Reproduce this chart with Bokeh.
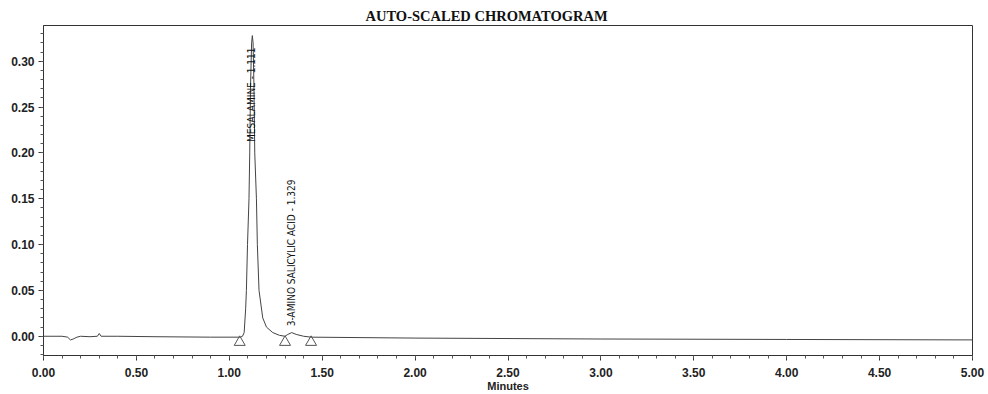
import math
from bokeh.plotting import figure
from bokeh.models import Range1d, FixedTicker, PrintfTickFormatter, ColumnDataSource
from bokeh.core.properties import value
from bokeh.embed import file_html
from bokeh.resources import INLINE

# ---- data ----
time_min = [0.00, 0.10, 0.13, 0.145, 0.16, 0.18, 0.20, 0.25, 0.29, 0.30, 0.31, 0.40,
            0.60, 0.90, 1.06, 1.071, 1.08, 1.088, 1.092, 1.098, 1.106, 1.110, 1.114,
            1.120, 1.124, 1.128, 1.133, 1.137, 1.146, 1.151, 1.160, 1.180, 1.200,
            1.234, 1.270, 1.300, 1.315, 1.336, 1.360, 1.400, 1.440, 2.00, 3.00,
            4.00, 5.00]
absorbance = [0.000, 0.000, -0.001, -0.004, -0.003, -0.001, 0.000, -0.0005, 0.000, 0.003,
              0.000, 0.000, -0.0005, -0.001, -0.001, 0.000, 0.004, 0.030, 0.050, 0.100,
              0.150, 0.200, 0.270, 0.320, 0.328, 0.320, 0.270, 0.200, 0.150, 0.100,
              0.050, 0.020, 0.010, 0.004, 0.001, 0.000, 0.002, 0.004, 0.002, 0.000,
              -0.001, -0.002, -0.003, -0.0035, -0.004]

peak_names = ["MESALAMINE - 1.111", "3-AMINO SALICYLIC ACID - 1.329"]
peak_label_time = [1.118, 1.336]
peak_label_level = [0.212, 0.011]
baseline_marker_times = [1.056, 1.300, 1.440]

x_ticks = [0.0, 0.5, 1.0, 1.5, 2.0, 2.5, 3.0, 3.5, 4.0, 4.5, 5.0]
x_minor = [i / 10 for i in range(0, 51)]
y_ticks = [0.00, 0.05, 0.10, 0.15, 0.20, 0.25, 0.30]
y_minor = [i / 100 for i in range(-2, 34)]

p = figure(width=988, height=394, output_backend="svg", toolbar_location=None,
           x_range=Range1d(0, 5), y_range=Range1d(-0.021, 0.339),
           min_border_left=43, min_border_right=16, min_border_top=25,
           min_border_bottom=37, background_fill_color="white",
           border_fill_color="white")

p.title.text = "AUTO-SCALED CHROMATOGRAM"
p.title.align = "left"
p.title.offset = 322
p.title.text_font = "Liberation Serif"
p.title.text_font_size = "14.5px"
p.title.text_font_style = "bold"
p.title.text_color = "#111111"
p.title.standoff = 3

p.outline_line_color = "#333333"
p.outline_line_width = 1
p.xgrid.visible = False
p.ygrid.visible = False

for ax in (p.xaxis[0], p.yaxis[0]):
    ax.axis_line_color = "#333333"
    ax.major_tick_line_color = "#333333"
    ax.minor_tick_line_color = "#555555"
    ax.major_tick_in = 0
    ax.major_tick_out = 5
    ax.minor_tick_in = 0
    ax.minor_tick_out = 3
    ax.major_label_text_font = "Liberation Sans"
    ax.major_label_text_font_size = "12px"
    ax.major_label_text_font_style = "bold"
    ax.major_label_text_color = "#222222"
    ax.formatter = PrintfTickFormatter(format="%.2f")

p.xaxis.ticker = FixedTicker(ticks=x_ticks, minor_ticks=x_minor)
p.yaxis.ticker = FixedTicker(ticks=y_ticks, minor_ticks=y_minor)
p.xaxis.major_label_standoff = 7
p.yaxis.major_label_standoff = 4
p.xaxis.axis_label = "Minutes"
p.xaxis.axis_label_text_font = "Liberation Sans"
p.xaxis.axis_label_text_font_size = "11px"
p.xaxis.axis_label_text_font_style = "bold"
p.xaxis.axis_label_text_color = "#222222"
p.xaxis.axis_label_standoff = 0

p.line(time_min, absorbance, line_color="#444444", line_width=1)

marker_y = [-0.0065] * len(baseline_marker_times)
p.scatter(baseline_marker_times, marker_y, marker="triangle", size=11,
          fill_color=None, line_color="#555555", line_width=1)

src = ColumnDataSource(dict(x=peak_label_time, y=peak_label_level, t=peak_names))
p.text(x="x", y="y", text="t", source=src, angle=math.pi / 2,
       text_align="left", text_baseline="middle",
       text_font=value("'Liberation Sans Narrow', 'DejaVu Sans Condensed', 'Liberation Serif', serif"),
       text_font_size="10px", text_color="#111111")

open("out.html", "w").write(file_html(p, INLINE))
